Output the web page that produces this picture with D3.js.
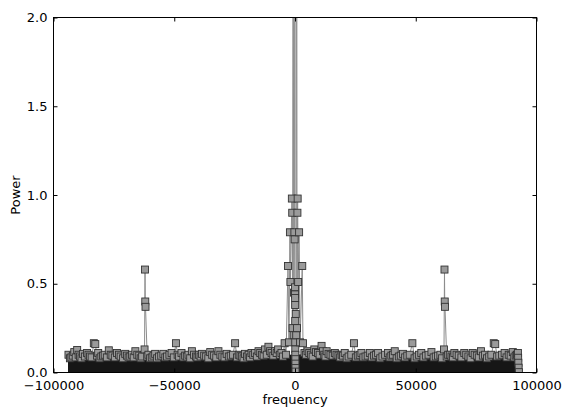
<!DOCTYPE html>
<html>
<head>
<meta charset="utf-8">
<script src="https://cdn.jsdelivr.net/npm/d3@7"></script>
<style>
  body { margin: 0; background: #fff; }
  text { font-family: "DejaVu Sans", sans-serif; font-size: 13px; fill: #000; }
</style>
</head>
<body>
<div id="chart"></div>
<script>
var xTicks = [-100000, -50000, 0, 50000, 100000];
var yTicks = [0, 0.5, 1.0, 1.5, 2.0];

// top of the dense noise floor (frequency, power)
var floorTop = [
  [-94000, 0.092], [-92000, 0.088], [-90000, 0.094], [-88000, 0.086], [-86000, 0.091], [-84000, 0.095],
  [-82000, 0.089], [-80000, 0.087], [-78000, 0.093], [-76000, 0.088], [-74000, 0.09], [-72000, 0.085],
  [-70000, 0.092], [-68000, 0.089], [-66000, 0.094], [-64000, 0.087], [-62000, 0.091], [-60000, 0.088],
  [-58000, 0.086], [-56000, 0.092], [-54000, 0.089], [-52000, 0.093], [-50000, 0.087], [-48000, 0.09],
  [-46000, 0.088], [-44000, 0.094], [-42000, 0.089], [-40000, 0.086], [-38000, 0.091], [-36000, 0.093],
  [-34000, 0.088], [-32000, 0.09], [-30000, 0.087], [-28000, 0.092], [-26000, 0.089], [-24000, 0.094],
  [-22000, 0.09], [-20000, 0.093], [-18000, 0.096], [-16000, 0.094], [-14000, 0.098], [-12000, 0.1],
  [-10000, 0.097], [-8000, 0.102], [-6000, 0.099], [-4000, 0.104], [-2000, 0.1], [0, 0.105],
  [2000, 0.101], [4000, 0.103], [6000, 0.098], [8000, 0.1], [10000, 0.097], [12000, 0.099],
  [14000, 0.095], [16000, 0.093], [18000, 0.096], [20000, 0.091], [22000, 0.09], [24000, 0.093],
  [26000, 0.088], [28000, 0.091], [30000, 0.089], [32000, 0.094], [34000, 0.087], [36000, 0.09],
  [38000, 0.092], [40000, 0.088], [42000, 0.093], [44000, 0.086], [46000, 0.09], [48000, 0.089],
  [50000, 0.094], [52000, 0.087], [54000, 0.091], [56000, 0.088], [58000, 0.092], [60000, 0.086],
  [62000, 0.09], [64000, 0.093], [66000, 0.088], [68000, 0.091], [70000, 0.087], [72000, 0.094],
  [74000, 0.089], [76000, 0.09], [78000, 0.086], [80000, 0.092], [82000, 0.095], [84000, 0.088],
  [86000, 0.091], [88000, 0.087], [90000, 0.093], [92000, 0.089]
];

// noise bins that stick out above the floor
var noisePoints = [
  [-93800, 0.10], [-92600, 0.085], [-91400, 0.115], [-90200, 0.127], [-89000, 0.09], [-87800, 0.105],
  [-86100, 0.11], [-84900, 0.09], [-83300, 0.165], [-82700, 0.16], [-81500, 0.11], [-80200, 0.09],
  [-78800, 0.10], [-77100, 0.125], [-75600, 0.095], [-73700, 0.11], [-72200, 0.09], [-70300, 0.105],
  [-68900, 0.085], [-67500, 0.10], [-66100, 0.12], [-64500, 0.095], [-63300, 0.09], [-60700, 0.10],
  [-59300, 0.085], [-57900, 0.105], [-56300, 0.09], [-54500, 0.105], [-53000, 0.09], [-51100, 0.11],
  [-49300, 0.165], [-48000, 0.09], [-47000, 0.11], [-45500, 0.095], [-44100, 0.10], [-42700, 0.12],
  [-41000, 0.09], [-39800, 0.10], [-38500, 0.105], [-36800, 0.09], [-35100, 0.115], [-33500, 0.095],
  [-31700, 0.12], [-30100, 0.09], [-28300, 0.105], [-26600, 0.095], [-24800, 0.165], [-23300, 0.10],
  [-22000, 0.09], [-20700, 0.105], [-19200, 0.10], [-18000, 0.11], [-16600, 0.11], [-15100, 0.12],
  [-13700, 0.10], [-12400, 0.13], [-11000, 0.145], [-9700, 0.11], [-8300, 0.12], [-7000, 0.13],
  [-5600, 0.11], [5200, 0.12], [6600, 0.10], [8000, 0.13], [9500, 0.11], [11000, 0.15],
  [12100, 0.10], [13100, 0.12], [14700, 0.10], [16500, 0.11], [18000, 0.095], [19300, 0.10],
  [20600, 0.11], [22200, 0.09], [24400, 0.165], [26000, 0.095], [27500, 0.11], [29200, 0.09],
  [31000, 0.11], [32700, 0.095], [34400, 0.11], [36200, 0.09], [38500, 0.11], [39900, 0.095],
  [41300, 0.12], [43000, 0.09], [44700, 0.105], [46500, 0.095], [48600, 0.165], [50400, 0.09],
  [52300, 0.11], [54200, 0.095], [56500, 0.115], [58300, 0.09], [60200, 0.10], [63400, 0.10],
  [64800, 0.09], [66000, 0.11], [67800, 0.095], [70100, 0.11], [71800, 0.09], [73600, 0.11],
  [75300, 0.095], [77000, 0.12], [78700, 0.10], [80400, 0.09], [82300, 0.165], [82900, 0.16],
  [84600, 0.095], [86800, 0.11], [88500, 0.10], [90200, 0.115], [91400, 0.095]
];

// second row of noise bins, sitting on the floor
var noiseLow = [
  [-93200, 0.08], [-92000, 0.095], [-90800, 0.085], [-89600, 0.10], [-88400, 0.08], [-87000, 0.09],
  [-85500, 0.10], [-84200, 0.085], [-82000, 0.095], [-80900, 0.08], [-79500, 0.095], [-77900, 0.085],
  [-76300, 0.10], [-74600, 0.085], [-72900, 0.10], [-71200, 0.08], [-69600, 0.095], [-68200, 0.09],
  [-66800, 0.085], [-65300, 0.10], [-63900, 0.08], [-61200, 0.09], [-60000, 0.08], [-58600, 0.095],
  [-57100, 0.08], [-55400, 0.095], [-53700, 0.085], [-52000, 0.10], [-50200, 0.085], [-48600, 0.10],
  [-46200, 0.085], [-44800, 0.09], [-43400, 0.08], [-41800, 0.10], [-40400, 0.085], [-39100, 0.09],
  [-37600, 0.095], [-35900, 0.08], [-34300, 0.10], [-32600, 0.085], [-30900, 0.10], [-29200, 0.085],
  [-27400, 0.09], [-25700, 0.10], [-24000, 0.085], [-22600, 0.095], [-21300, 0.08], [-19900, 0.09],
  [-18600, 0.085], [-17300, 0.10], [-15800, 0.09], [-14400, 0.11], [-13000, 0.095], [-11700, 0.10],
  [-10300, 0.12], [-9000, 0.095], [-7600, 0.11], [-6300, 0.10], [-5000, 0.09],
  [4500, 0.10], [5900, 0.11], [7300, 0.09], [8700, 0.115], [10200, 0.10], [11600, 0.12],
  [12600, 0.09], [13900, 0.105], [15600, 0.095], [17200, 0.10], [18700, 0.085], [19900, 0.095],
  [21400, 0.08], [23300, 0.10], [25200, 0.085], [26800, 0.10], [28300, 0.085], [30100, 0.095],
  [31800, 0.085], [33500, 0.10], [35300, 0.08], [37300, 0.10], [39200, 0.085], [40600, 0.10],
  [42100, 0.08], [43800, 0.095], [45600, 0.085], [47500, 0.10], [49500, 0.08], [51300, 0.10],
  [53200, 0.085], [55300, 0.10], [57400, 0.085], [59200, 0.095], [60900, 0.08], [62800, 0.09],
  [64100, 0.10], [65400, 0.085], [66900, 0.10], [68900, 0.085], [70900, 0.10], [72700, 0.08],
  [74400, 0.10], [76100, 0.085], [77800, 0.095], [79500, 0.08], [81300, 0.10], [83700, 0.09],
  [85700, 0.10], [87600, 0.085], [89300, 0.095], [90800, 0.085], [91900, 0.10]
];

// tones at +/- 62 kHz
var sidePeaks = [
  [-62300, 0.13], [-62100, 0.58], [-62000, 0.40], [-61900, 0.37],
  [61700, 0.13], [61900, 0.58], [62000, 0.40], [62100, 0.37]
];

// DC peak, goes off the top of the axes
var centerPoints = [
  [-4300, 0.165], [-3700, 0.10], [-2900, 0.60], [-2500, 0.17], [-2100, 0.79], [-1900, 0.51],
  [-1300, 0.98], [-1150, 0.90], [-1000, 0.25], [-750, 3.8], [-550, 0.21], [-400, 0.45],
  [-250, 0.79], [-150, 0.75], [-50, 9.0], [0, 0.48], [20, 0.44], [40, 0.42], [60, 0.38],
  [80, 0.29], [100, 0.17], [120, 0.13], [140, 0.10], [160, 0.075], [180, 0.05], [200, 0.025],
  [220, 0.005], [300, 0.33], [500, 0.21], [650, 5.0], [850, 0.25], [1000, 0.90], [1100, 0.98],
  [1300, 0.51], [1700, 0.79], [2100, 0.17], [3000, 0.60], [3300, 0.165], [3900, 0.11]
];

// last bins at the upper edge
var edgePoints = [
  [92300, 0.11], [92400, 0.083], [92500, 0.055], [92600, 0.027], [92700, 0.002]
];

document.addEventListener("DOMContentLoaded", function () {
  var width = 562,
    height = 409;
  var left = 53.5,
    right = 536.5,
    top = 17.5,
    bottom = 372.5;

  var svg = d3.select("#chart").append("svg").attr("width", width).attr("height", height);

  var x = d3.scaleLinear().domain([-100000, 100000]).range([left, right]);
  var y = d3.scaleLinear().domain([0, 2]).range([bottom, top]);

  svg
    .append("clipPath")
    .attr("id", "clip")
    .append("rect")
    .attr("x", left)
    .attr("y", top)
    .attr("width", right - left)
    .attr("height", bottom - top);

  var plot = svg.append("g").attr("clip-path", "url(#clip)");

  var spectrum = noisePoints.concat(noiseLow, sidePeaks, centerPoints, edgePoints).sort(function (a, b) {
    return a[0] - b[0];
  });

  var line = d3
    .line()
    .x(function (d) { return x(d[0]); })
    .y(function (d) { return y(d[1]); });

  plot
    .append("path")
    .datum(spectrum)
    .attr("d", line)
    .attr("fill", "none")
    .attr("stroke", "#8c8c8c")
    .attr("stroke-width", 1);

  var area = d3
    .area()
    .x(function (d) { return x(d[0]); })
    .y0(y(0))
    .y1(function (d) { return y(d[1]); });

  plot.append("path").datum(floorTop).attr("d", area).attr("fill", "#161616");

  plot
    .selectAll(".pt")
    .data(spectrum)
    .enter()
    .append("rect")
    .attr("class", "pt")
    .attr("x", function (d) { return x(d[0]) - 3.5; })
    .attr("y", function (d) { return y(d[1]) - 3.5; })
    .attr("width", 7)
    .attr("height", 7)
    .attr("fill", "#9a9a9a")
    .attr("stroke", "#333")
    .attr("stroke-width", 0.9);

  var xFmt = function (d) {
    return d < 0 ? "\u2212" + Math.abs(d) : String(d);
  };

  // matplotlib classic: ticks inside on all four sides
  svg
    .append("g")
    .attr("transform", "translate(0," + bottom + ")")
    .call(d3.axisBottom(x).tickValues(xTicks).tickSize(-4).tickPadding(8).tickFormat(xFmt));
  svg
    .append("g")
    .attr("transform", "translate(0," + top + ")")
    .call(d3.axisTop(x).tickValues(xTicks).tickSize(-4).tickFormat(""));
  svg
    .append("g")
    .attr("transform", "translate(" + left + ",0)")
    .call(d3.axisLeft(y).tickValues(yTicks).tickSize(-4).tickPadding(6).tickFormat(d3.format(".1f")));
  svg
    .append("g")
    .attr("transform", "translate(" + right + ",0)")
    .call(d3.axisRight(y).tickValues(yTicks).tickSize(-4).tickFormat(""));

  svg.selectAll(".domain").remove();
  svg.selectAll(".tick line").attr("stroke", "#000");
  svg.selectAll(".tick text").attr("font-family", "DejaVu Sans").attr("font-size", 13).attr("fill", "#000");

  svg
    .append("rect")
    .attr("x", left)
    .attr("y", top)
    .attr("width", right - left)
    .attr("height", bottom - top)
    .attr("fill", "none")
    .attr("stroke", "#000")
    .attr("stroke-width", 1);

  svg
    .append("text")
    .attr("x", (left + right) / 2)
    .attr("y", 404)
    .attr("text-anchor", "middle")
    .text("frequency");

  svg
    .append("text")
    .attr("transform", "translate(20," + (top + bottom) / 2 + ") rotate(-90)")
    .attr("text-anchor", "middle")
    .text("Power");
});
</script>
</body>
</html>
